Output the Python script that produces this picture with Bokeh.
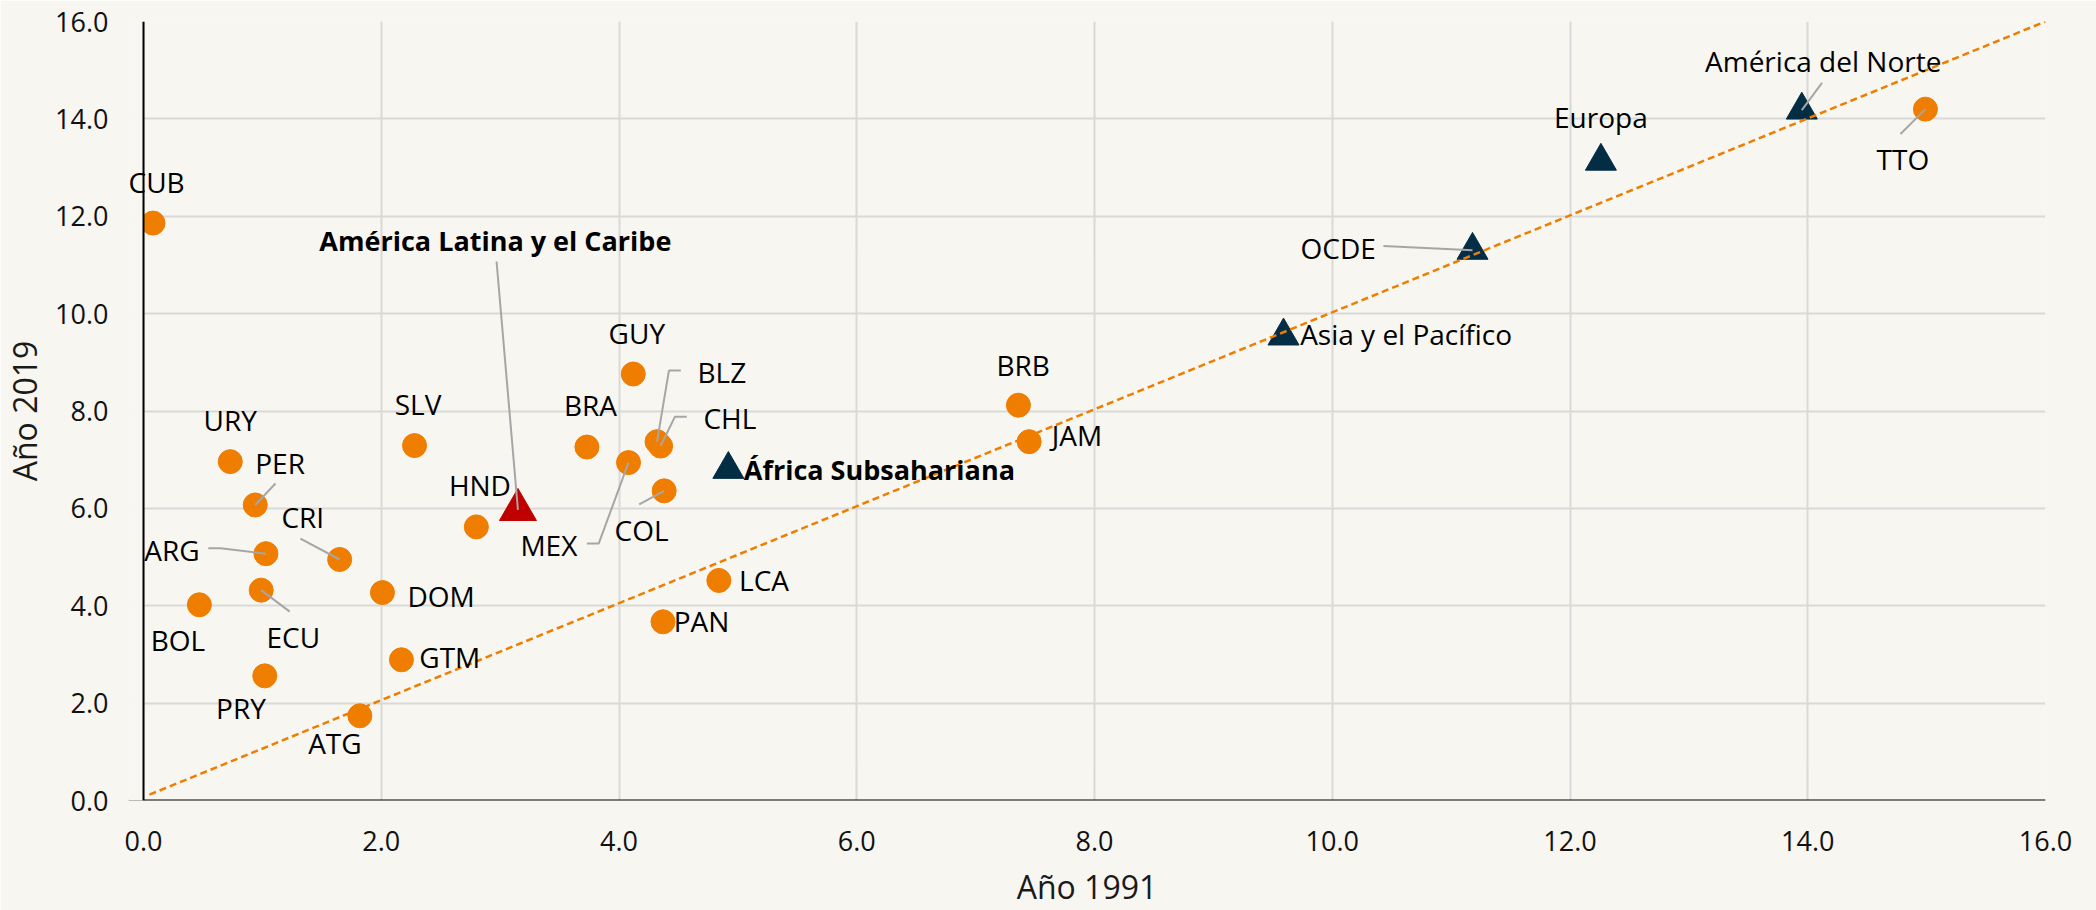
from bokeh.plotting import figure
from bokeh.models import (Range1d, FixedTicker, PrintfTickFormatter, ColumnDataSource, LabelSet,
                          Span, BoxAnnotation)
from bokeh.embed import file_html
from bokeh.resources import INLINE
from bokeh.core.properties import value

# ---------------- data ----------------
countries = ["CUB", "URY", "PER", "ARG", "CRI", "ECU", "BOL", "DOM", "GTM", "PRY", "ATG", "SLV",
             "HND", "BRA", "MEX", "GUY", "BLZ", "CHL", "COL", "PAN", "LCA", "BRB", "JAM", "TTO"]
c1991 = [0.08, 0.73, 0.94, 1.03, 1.65, 0.99, 0.47, 2.01, 2.17, 1.02, 1.82, 2.28,
         2.80, 3.73, 4.08, 4.12, 4.32, 4.35, 4.38, 4.37, 4.84, 7.36, 7.45, 14.99]
c2019 = [11.86, 6.96, 6.07, 5.07, 4.95, 4.32, 4.02, 4.27, 2.89, 2.56, 1.74, 7.29,
         5.62, 7.26, 6.94, 8.76, 7.37, 7.28, 6.36, 3.67, 4.52, 8.12, 7.37, 14.20]

regions = ["América Latina y el Caribe", "África Subsahariana", "Asia y el Pacífico",
           "OCDE", "Europa", "América del Norte"]
r1991 = [3.15, 4.92, 9.59, 11.18, 12.26, 13.95]
r2019 = [5.97, 6.80, 9.54, 11.30, 13.13, 14.18]

diag_x = [0.05, 16.0]
diag_y = [0.12, 16.0]

ticks = [0, 2, 4, 6, 8, 10, 12, 14, 16]
x_title = "Año 1991"
y_title = "Año 2019"

# ---------------- label layout (annotation placement) ----------------
# name: (x, y, align, bold)
label_pos = {
    "CUB": (0.11, 12.70, "center", False),
    "URY": (0.73, 7.81, "center", False),
    "PER": (0.94, 6.94, "left", False),
    "ARG": (0.24, 5.15, "center", False),
    "CRI": (1.34, 5.83, "center", False),
    "ECU": (1.26, 3.36, "center", False),
    "BOL": (0.29, 3.29, "center", False),
    "DOM": (2.22, 4.19, "left", False),
    "GTM": (2.32, 2.95, "left", False),
    "PRY": (0.82, 1.91, "center", False),
    "ATG": (1.61, 1.18, "center", False),
    "SLV": (2.31, 8.15, "center", False),
    "HND": (2.83, 6.49, "center", False),
    "BRA": (3.76, 8.12, "center", False),
    "MEX": (3.41, 5.25, "center", False),
    "GUY": (4.15, 9.61, "center", False),
    "BLZ": (4.66, 8.80, "left", False),
    "CHL": (4.71, 7.86, "left", False),
    "COL": (4.19, 5.56, "center", False),
    "PAN": (4.46, 3.68, "left", False),
    "LCA": (5.01, 4.52, "left", False),
    "BRB": (7.40, 8.95, "center", False),
    "JAM": (7.64, 7.50, "left", False),
    "TTO": (14.80, 13.17, "center", False),
    "América Latina y el Caribe": (2.96, 11.51, "center", True),
    "África Subsahariana": (5.05, 6.80, "left", True),
    "Asia y el Pacífico": (9.73, 9.58, "left", False),
    "OCDE": (10.05, 11.35, "center", False),
    "Europa": (12.26, 14.04, "center", False),
    "América del Norte": (14.13, 15.19, "center", False),
}
# leader line start / elbow points (label side); the point end comes from the data
leaders = {
    "PER": [(1.11, 6.51)],
    "ARG": [(0.545, 5.18), (0.65, 5.18)],
    "CRI": [(1.32, 5.38)],
    "ECU": [(1.23, 3.88)],
    "MEX": [(3.73, 5.28), (3.83, 5.28)],
    "BLZ": [(4.52, 8.83), (4.42, 8.83)],
    "CHL": [(4.57, 7.88), (4.47, 7.88)],
    "COL": [(4.17, 6.08)],
    "TTO": [(14.78, 13.69)],
    "América Latina y el Caribe": [(2.97, 11.07)],
    "OCDE": [(10.43, 11.39)],
    "América del Norte": [(14.12, 14.74)],
}

BG = "#F7F6F0"
ORANGE = "#EF7D00"
NAVY = "#022D45"
RED = "#C00000"
FONT = "Open Sans"

# the frame starts a little left of x=0 so that labels near the axis are not clipped
X_LEFT = -15 * 16 / 1902

p = figure(width=2096, height=910, x_range=Range1d(X_LEFT, 16), y_range=Range1d(0, 16),
           output_backend="svg", toolbar_location=None,
           min_border_left=128, min_border_right=51, min_border_top=21, min_border_bottom=107,
           background_fill_color=BG, border_fill_color=BG)
p.outline_line_color = None

for g in (p.xgrid, p.ygrid):
    g.ticker = FixedTicker(ticks=ticks)
    g.grid_line_color = "#D9D9D9"
    g.grid_line_width = 2

for ax in (p.xaxis, p.yaxis):
    ax.ticker = FixedTicker(ticks=ticks)
    ax.formatter = PrintfTickFormatter(format="%.1f")
    ax.major_tick_line_color = None
    ax.minor_tick_line_color = None
    ax.axis_line_color = None
    ax.major_label_text_font = FONT
    ax.major_label_text_font_size = "27px"
    ax.major_label_text_color = "#111111"
    ax.axis_label_text_font = FONT
    ax.axis_label_text_font_style = "normal"
    ax.axis_label_text_color = "#1a1a1a"
    ax.axis_label_text_font_size = "32px"

p.xaxis.axis_label = x_title
p.yaxis.axis_label = y_title
p.xaxis.major_label_standoff = 24
p.xaxis.axis_label_standoff = 11
p.yaxis.major_label_standoff = 14
p.yaxis.axis_label_standoff = 6

# triangles (regions)
p.scatter(r1991[1:], r2019[1:], marker="triangle", size=31, color=NAVY)
p.scatter(r1991[:1], r2019[:1], marker="triangle", size=37, color=RED)

# diagonal
p.line(diag_x, diag_y, line_color=ORANGE, line_width=2.5, line_dash="7 4")

# circles (countries)
p.scatter(c1991, c2019, marker="circle", size=24, color=ORANGE)

# leader lines
pt = {n: (x, y) for n, x, y in zip(countries, c1991, c2019)}
pt.update({n: (x, y) for n, x, y in zip(regions, r1991, r2019)})
lx, ly = [], []
for name, pts in leaders.items():
    seq = pts + [pt[name]]
    lx.append([q[0] for q in seq])
    ly.append([q[1] for q in seq])
p.multi_line(lx, ly, line_color="#A6A6A6", line_width=2)

# axis lines drawn at x=0 and y=0; the strip left of x=0 is masked with the background
p.add_layout(Span(location=0, dimension="width", line_color="#000000", line_width=2))
p.add_layout(BoxAnnotation(left=-1, right=0, bottom=-1, top=17, fill_color=BG, fill_alpha=1,
                           line_color=None))
p.add_layout(Span(location=0, dimension="height", line_color="#000000", line_width=2))

# labels
for align in ("left", "center"):
    for bold in (False, True):
        names = [n for n, v in label_pos.items() if v[2] == align and v[3] == bold]
        if not names:
            continue
        src = ColumnDataSource(dict(x=[label_pos[n][0] for n in names],
                                    y=[label_pos[n][1] for n in names], t=names))
        p.add_layout(LabelSet(x="x", y="y", text="t", source=src, text_align=align,
                              text_baseline="middle", text_font=value(FONT),
                              text_font_size="27px" if bold else "28px", text_color="#000000",
                              text_font_style="bold" if bold else "normal"))

open("out.html", "w").write(file_html(p, INLINE))
